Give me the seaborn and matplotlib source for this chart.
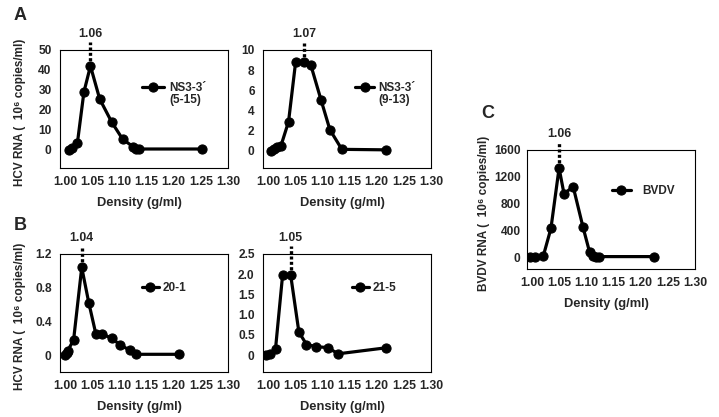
import matplotlib
matplotlib.use("Agg")
import matplotlib.pyplot as plt
import seaborn as sns

sns.set_style("white")
plt.rcParams["font.family"] = ["Liberation Sans", "DejaVu Sans"]
plt.rcParams["font.weight"] = "bold"

# donnees
a1_x = [1.008, 1.013, 1.023, 1.035, 1.047, 1.064, 1.086, 1.106, 1.126, 1.131, 1.137, 1.252]
a1_y = [0.2, 0.8, 3.5, 29, 42, 25.5, 14, 5.5, 1.5, 0.5, 0.5, 0.5]
a2_x = [1.005, 1.011, 1.016, 1.024, 1.038, 1.051, 1.067, 1.079, 1.098, 1.114, 1.136, 1.218]
a2_y = [0.0, 0.2, 0.35, 0.5, 2.9, 8.8, 8.8, 8.5, 5.0, 2.1, 0.15, 0.1]
b1_x = [1.000, 1.003, 1.005, 1.016, 1.031, 1.044, 1.057, 1.069, 1.086, 1.102, 1.119, 1.130, 1.210]
b1_y = [0.0, 0.02, 0.05, 0.18, 1.04, 0.62, 0.25, 0.25, 0.2, 0.12, 0.06, 0.01, 0.01]
b2_x = [0.997, 1.003, 1.014, 1.027, 1.042, 1.057, 1.071, 1.089, 1.111, 1.129, 1.218]
b2_y = [0.0, 0.02, 0.15, 1.97, 1.97, 0.57, 0.26, 0.21, 0.18, 0.03, 0.18]
c_x = [0.996, 1.006, 1.021, 1.035, 1.050, 1.059, 1.076, 1.094, 1.106, 1.113, 1.118, 1.124, 1.224]
c_y = [10, 10, 20, 430, 1330, 950, 1050, 450, 80, 20, 10, 10, 10]

x_ticks = [1.00, 1.05, 1.10, 1.15, 1.20, 1.25, 1.30]
x_labels = ["1.00", "1.05", "1.10", "1.15", "1.20", "1.25", "1.30"]

a1_ticks = [0, 10, 20, 30, 40, 50]
a2_ticks = [0, 2, 4, 6, 8, 10]
b1_ticks = [0, 0.4, 0.8, 1.2]
b1_labels = ["0", "0.4", "0.8", "1.2"]
b2_ticks = [0, 0.5, 1.0, 1.5, 2.0, 2.5]
b2_labels = ["0", "0.5", "1.0", "1.5", "2.0", "2.5"]
c_ticks = [0, 400, 800, 1200, 1600]

W, H = 719, 417
fig = plt.figure(figsize=(W / 100, H / 100), dpi=100)


def panneau(box, x, y, ylim, yticks, ylabels, pic, pic_txt, nom, sous_nom, leg, ylab=None, lettre=None):
    left, top, right, bottom = box
    ax = fig.add_axes([left / W, 1 - bottom / H, (right - left) / W, (bottom - top) / H])
    sns.lineplot(x=x, y=y, ax=ax, color="black", linewidth=2.3, marker="o",
                 markersize=6.6, markeredgecolor="black", sort=False, label=nom)
    ax.set_xlim(0.991, 1.30)
    ax.set_ylim(*ylim)
    ax.set_xticks(x_ticks)
    ax.set_xticklabels(x_labels)
    ax.set_yticks(yticks)
    ax.set_yticklabels(ylabels if ylabels else [str(t) for t in yticks])
    ax.tick_params(axis="x", labelsize=8.8, pad=6, length=0)
    ax.tick_params(axis="y", labelsize=8.6, pad=6, length=0)
    for lab in ax.get_xticklabels() + ax.get_yticklabels():
        lab.set_fontweight("bold")
    for s in ax.spines.values():
        s.set_color("black")
        s.set_linewidth(0.8)
    ax.set_xlabel("Density (g/ml)", fontsize=9.3, fontweight="bold")
    ax.xaxis.set_label_coords(0.47, -0.245)
    if ylab:
        ax.set_ylabel(ylab, fontsize=8.5, fontweight="bold")
        ax.yaxis.set_label_coords(-0.205, 0.47)
    else:
        ax.set_ylabel("")

    # ligne pointillee au pic
    xp = x[pic]
    y0, y1 = ylim
    ax.plot([xp, xp], [y[pic], y1 + 0.07 * (y1 - y0)], color="black", linewidth=2.4,
            linestyle=(0, (0.9, 0.7)), clip_on=False)
    ax.text(xp, 1.135, pic_txt, transform=ax.get_xaxis_transform(), ha="center", va="center",
            fontsize=8.8, fontweight="bold")

    lx, ly, hl, hp = leg
    lg = ax.legend(loc="center left", bbox_to_anchor=(lx, ly), frameon=False, borderpad=0,
                   borderaxespad=0, handlelength=hl, handletextpad=hp,
                   prop={"size": 8.5, "weight": "bold"})
    if sous_nom:
        fig.canvas.draw()
        bb = lg.get_texts()[0].get_window_extent().transformed(ax.transAxes.inverted())
        ax.text(bb.x0, ly - 0.105, sous_nom, transform=ax.transAxes, ha="left", va="center",
                fontsize=8.5, fontweight="bold")
    if lettre:
        fig.text(lettre[1] / W, 1 - lettre[2] / H, lettre[0], ha="center", va="center",
                 fontsize=13, fontweight="bold")
    return ax


ylab_hcv = "HCV RNA (  10⁶ copies/ml)"
panneau((60, 50, 228, 168), a1_x, a1_y, (-9, 50), a1_ticks, None, 4, "1.06",
        "NS3-3´", "(5-15)", (0.488, 0.678, 1.9, 0.4), ylab_hcv, ("A", 20, 15))
panneau((263, 50, 431, 168), a2_x, a2_y, (-1.7, 10), a2_ticks, None, 6, "1.07",
        "NS3-3´", "(9-13)", (0.548, 0.678, 1.6, 0.4))
panneau((60, 254, 228, 372), b1_x, b1_y, (-0.2, 1.2), b1_ticks, b1_labels, 4, "1.04",
        "20-1", None, (0.488, 0.712, 1.4, 0.35), ylab_hcv, ("B", 20, 225))
panneau((263, 254, 431, 372), b2_x, b2_y, (-0.42, 2.5), b2_ticks, b2_labels, 4, "1.05",
        "21-5", None, (0.53, 0.712, 1.4, 0.35))
ax_c = panneau((527, 150, 695, 269), c_x, c_y, (-175, 1600), c_ticks, None, 4, "1.06",
               "BVDV", None, (0.506, 0.658, 1.6, 1.0), "BVDV RNA (  10⁶ copies/ml)", ("C", 488, 113))
ax_c.set_yticks([200, 600, 1000, 1400], minor=True)
ax_c.tick_params(axis="y", which="both", length=2.5, pad=2, color="black", direction="out")
ax_c.yaxis.set_label_coords(-0.218, 0.47)

plt.savefig("out.png", dpi=100)
